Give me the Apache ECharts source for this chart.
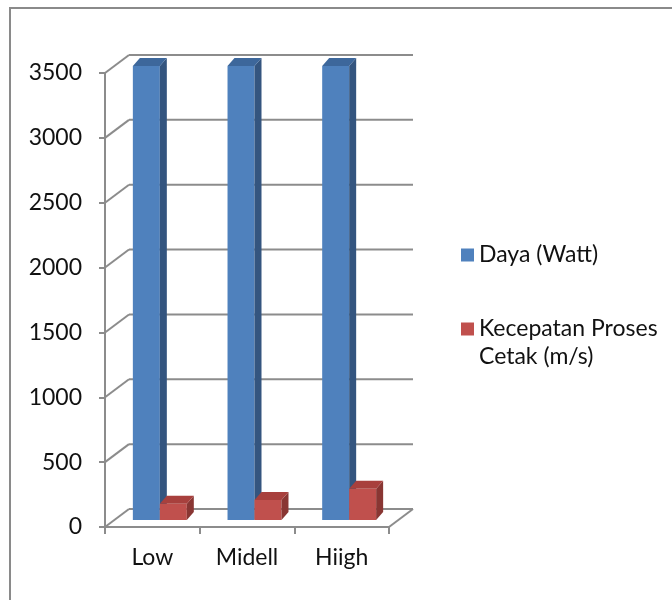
<!DOCTYPE html>
<html>
<head>
<meta charset="utf-8">
<script src="https://cdn.jsdelivr.net/npm/echarts@6/dist/echarts.min.js"></script>
<style>
  html, body { margin: 0; padding: 0; background: #ffffff; }
  #chart { width: 672px; height: 600px; }
</style>
</head>
<body>
<div id="chart"></div>
<script>
// Categories and values
const categories = ['Low', 'Midell', 'Hiigh'];
const dayaWatt = [3500, 3500, 3500];
const kecepatanCetak = [125, 155, 240];
const yTicks = [0, 500, 1000, 1500, 2000, 2500, 3000, 3500];
const seriesNames = ['Daya (Watt)', 'Kecepatan Proses Cetak (m/s)'];

// Pseudo-3D projection offsets (pixels)
const WALL_DX = 24, WALL_DY = -18;   // front plane -> back wall
const PLANE_DX = 7.5, PLANE_DY = -7; // front plane -> column plane
const BAR_DX = 7, BAR_DY = -8;       // column depth
const BAR_FRACTION = 0.285;          // column width as share of a category

const FONT = 'Lato, "Open Sans", sans-serif';
const FONT_SIZE = 23;
const GRID_COLOR = '#8c8c8c';

const palette = [
  { front: '#4f81bd', side: '#34557f', top: '#3d679b' },
  { front: '#c0504d', side: '#893633', top: '#a8403d' }
];

function lineEl(x1, y1, x2, y2) {
  return {
    type: 'line',
    shape: { x1, y1, x2, y2 },
    style: { stroke: GRID_COLOR, lineWidth: 2 }
  };
}

// Back wall gridlines, left wall diagonals and floor edge
function renderFrame(params, api) {
  const cs = params.coordSys;
  const v = api.value(1);
  const y = api.coord([0, v])[1];
  const xl = cs.x, xr = cs.x + cs.width;
  const children = [
    lineEl(xl, y, xl + WALL_DX, y + WALL_DY),
    lineEl(xl + WALL_DX, y + WALL_DY, xr + WALL_DX, y + WALL_DY)
  ];
  if (v === 0) children.push(lineEl(xr, y, xr + WALL_DX, y + WALL_DY));
  return { type: 'group', children };
}

// Column with front, side and top faces
function makeColumnRenderer(slot) {
  const c = palette[slot];
  return function (params, api) {
    const cat = api.value(0);
    const val = api.value(1);
    const base = api.coord([cat, 0]);
    const top = api.coord([cat, val]);
    const w = api.size([1, 0])[0] * BAR_FRACTION;
    const cx = base[0] + PLANE_DX;
    const x0 = slot === 0 ? cx - w : cx;
    const x1 = x0 + w;
    const yb = base[1] + PLANE_DY;
    const yt = top[1] + PLANE_DY;
    return {
      type: 'group',
      children: [
        { type: 'rect', shape: { x: x0, y: yt, width: w, height: yb - yt },
          style: { fill: c.front } },
        { type: 'polygon', shape: { points: [[x1, yt], [x1 + BAR_DX, yt + BAR_DY], [x1 + BAR_DX, yb + BAR_DY], [x1, yb]] },
          style: { fill: c.side } },
        { type: 'polygon', shape: { points: [[x0, yt], [x0 + BAR_DX, yt + BAR_DY], [x1 + BAR_DX, yt + BAR_DY], [x1, yt]] },
          style: { fill: c.top } }
      ]
    };
  };
}

const chart = echarts.init(document.getElementById('chart'));

chart.setOption({
  animation: false,
  backgroundColor: '#ffffff',
  color: [palette[0].front, palette[1].front],
  graphic: [{
    type: 'rect',
    shape: { x: 10, y: 8, width: 800, height: 800 },
    style: { fill: 'none', stroke: '#8a8a8a', lineWidth: 2 },
    silent: true
  }],
  grid: {
    left: 105, right: 283, top: 73, bottom: 73,
    outerBoundsMode: 'none'
  },
  legend: {
    orient: 'vertical',
    left: 461,
    top: 241,
    padding: 0,
    itemWidth: 13,
    itemHeight: 13,
    itemGap: 18,
    icon: 'rect',
    selectedMode: false,
    // a leading blank line keeps the marker level with the first text line
    formatter: name => (name === seriesNames[1] ? '\n' + name : name),
    textStyle: {
      fontFamily: FONT, fontSize: FONT_SIZE, color: '#111111',
      lineHeight: 28, width: 190, overflow: 'break'
    },
    data: [
      { name: seriesNames[0], itemStyle: { color: palette[0].front } },
      { name: seriesNames[1], itemStyle: { color: palette[1].front } }
    ]
  },
  xAxis: {
    type: 'category',
    data: categories,
    axisLine: { show: true, lineStyle: { color: GRID_COLOR, width: 2 } },
    axisTick: { show: true, length: 7, lineStyle: { color: GRID_COLOR, width: 2 } },
    axisLabel: { fontFamily: FONT, fontSize: FONT_SIZE, color: '#111111', margin: 19 },
    splitLine: { show: false }
  },
  yAxis: {
    type: 'value',
    min: 0, max: 3500, interval: 500,
    axisLine: { show: true, lineStyle: { color: GRID_COLOR, width: 2 } },
    axisTick: { show: true, length: 6, lineStyle: { color: GRID_COLOR, width: 2 } },
    axisLabel: {
      fontFamily: FONT, fontSize: FONT_SIZE, color: '#111111', margin: 23,
      formatter: v => String(v)
    },
    splitLine: { show: false }
  },
  series: [
    {
      type: 'custom',
      name: 'frame',
      silent: true,
      z: 1,
      renderItem: renderFrame,
      encode: { x: 0, y: 1 },
      data: yTicks.map(v => [0, v])
    },
    {
      type: 'custom',
      name: seriesNames[0],
      z: 2,
      renderItem: makeColumnRenderer(0),
      encode: { x: 0, y: 1 },
      data: dayaWatt.map((v, i) => [i, v])
    },
    {
      type: 'custom',
      name: seriesNames[1],
      z: 2,
      renderItem: makeColumnRenderer(1),
      encode: { x: 0, y: 1 },
      data: kecepatanCetak.map((v, i) => [i, v])
    }
  ]
});
</script>
</body>
</html>
